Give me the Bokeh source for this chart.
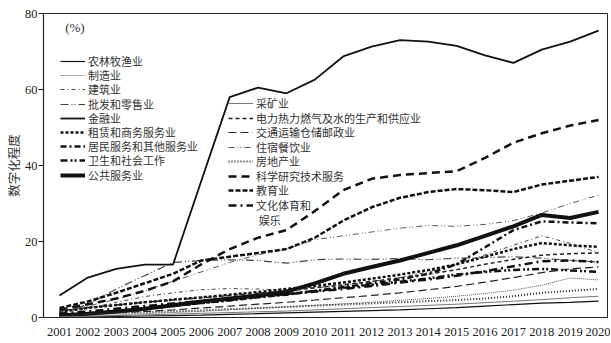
from bokeh.plotting import figure
from bokeh.models import Range1d, FixedTicker, Legend, LegendItem, Label
from bokeh.embed import file_html
from bokeh.resources import INLINE

years = list(range(2001, 2021))

agri = [0.1, 0.2, 0.3, 0.4, 0.5, 0.6, 0.8, 1.0, 1.2, 1.4, 1.6, 1.8, 2.0, 2.3, 2.6, 3.0, 3.4, 3.8, 4.0, 4.3]
manuf = [0.3, 0.5, 0.7, 1.0, 1.3, 1.6, 2.0, 2.4, 2.8, 3.2, 3.6, 4.0, 4.5, 5.0, 5.6, 6.3, 7.2, 8.5, 10.4, 9.9]
constr = [1.5, 2.5, 4.0, 5.5, 6.5, 7.3, 7.6, 7.5, 7.2, 7.8, 8.5, 9.5, 10.5, 12.0, 14.0, 16.5, 19.0, 21.5, 19.5, 17.0]
retail = [0.8, 3.5, 7.5, 11.0, 14.5, 15.0, 15.2, 15.0, 14.3, 15.2, 15.4, 15.3, 15.5, 15.2, 15.6, 15.8, 16.0, 15.6, 15.0, 14.6]
finance = [5.8, 10.5, 12.8, 13.9, 13.9, 36.0, 58.0, 60.5, 59.0, 62.6, 68.7, 71.3, 73.0, 72.6, 71.5, 69.0, 67.0, 70.5, 72.6, 75.5]
leasing = [1.5, 2.5, 3.3, 4.0, 4.7, 5.3, 6.0, 6.7, 7.5, 8.3, 9.2, 10.2, 11.3, 12.5, 14.0, 16.0, 18.0, 19.6, 19.0, 18.6]
resident = [0.5, 1.0, 1.5, 2.2, 3.0, 3.8, 4.5, 5.3, 6.0, 7.0, 8.0, 9.0, 10.0, 11.5, 14.0, 18.5, 23.0, 25.3, 25.0, 24.8]
health = [0.5, 1.0, 1.6, 2.3, 3.0, 3.8, 4.6, 5.4, 6.2, 7.0, 7.8, 8.6, 9.4, 10.3, 11.3, 12.0, 12.5, 12.8, 12.4, 12.0]
public = [0.5, 1.0, 1.6, 2.3, 3.2, 4.2, 5.0, 5.8, 6.8, 9.0, 11.5, 13.3, 15.0, 17.0, 19.0, 21.5, 24.0, 27.0, 26.2, 27.8]
mining = [0.2, 0.3, 0.5, 0.7, 0.9, 1.1, 1.3, 1.5, 1.7, 2.0, 2.3, 2.6, 2.9, 3.2, 3.5, 3.9, 4.3, 4.7, 5.2, 5.6]
power = [1.8, 2.6, 3.3, 4.0, 4.6, 5.2, 5.8, 6.4, 7.0, 7.8, 8.6, 9.5, 10.4, 11.4, 12.6, 14.0, 15.3, 16.4, 16.8, 17.0]
transport = [0.5, 0.8, 1.2, 1.6, 2.0, 2.5, 3.0, 3.5, 4.0, 4.6, 5.2, 5.8, 6.5, 7.3, 8.2, 9.3, 10.5, 11.8, 12.8, 13.3]
hotel = [1.5, 3.0, 4.8, 7.0, 9.5, 12.0, 14.5, 16.5, 18.0, 20.5, 21.5, 22.5, 23.5, 24.2, 24.0, 24.5, 25.5, 27.5, 30.0, 32.2]
realestate = [0.8, 1.0, 1.2, 1.4, 1.6, 1.9, 2.2, 2.5, 2.8, 3.1, 3.4, 3.7, 4.0, 4.3, 4.6, 5.0, 5.6, 6.5, 7.0, 7.5]
science = [2.0, 3.5, 5.0, 7.0, 9.5, 14.0, 18.0, 21.0, 23.0, 28.0, 33.5, 36.5, 37.5, 38.0, 38.5, 42.0, 46.0, 48.5, 50.5, 52.0]
education = [2.5, 4.2, 6.5, 9.0, 11.5, 15.0, 16.0, 17.0, 18.0, 21.0, 25.5, 29.0, 31.5, 33.0, 33.8, 33.5, 33.0, 35.0, 36.0, 37.0]
culture = [1.0, 1.6, 2.3, 3.0, 3.7, 4.3, 4.9, 5.5, 6.1, 6.8, 7.5, 8.3, 9.2, 10.0, 11.0, 12.2, 13.5, 14.8, 15.0, 14.6]

left_names = ["农林牧渔业", "制造业", "建筑业", "批发和零售业", "金融业", "租赁和商务服务业",
              "居民服务和其他服务业", "卫生和社会工作", "公共服务业"]
right_names = ["采矿业", "电力热力燃气及水的生产和供应业", "交通运输仓储邮政业", "住宿餐饮业",
               "房地产业", "科学研究技术服务", "教育业", "文化体育和"]
culture_line2 = "娱乐"

left_data = [agri, manuf, constr, retail, finance, leasing, resident, health, public]
right_data = [mining, power, transport, hotel, realestate, science, education, culture]

# (color, width, dash)
left_styles = [
    ("#111111", 1.2, "solid"),
    ("#555555", 1.0, "1 1"),
    ("#444444", 1.0, "4 3 1 3"),
    ("#444444", 1.2, "8 3 1 2 1 3"),
    ("#111111", 1.8, "solid"),
    ("#111111", 2.5, "3 2"),
    ("#111111", 2.5, "6 3 2 3"),
    ("#111111", 2.5, "7 3 2 2 2 3"),
    ("#111111", 4.0, "solid"),
]
right_styles = [
    ("#777777", 1.0, "solid"),
    ("#222222", 1.5, "4 3"),
    ("#222222", 1.2, "8 4"),
    ("#555555", 1.0, "6 3 1 2 1 3"),
    ("#222222", 2.0, "1 2"),
    ("#111111", 2.5, "8 5"),
    ("#111111", 2.5, "5 2"),
    ("#111111", 2.5, "8 4 2 4"),
]

MIX = "Liberation Serif, Noto Sans CJK SC"
SERIF = "Liberation Serif"

p = figure(width=610, height=338, output_backend="svg", toolbar_location=None,
           x_range=Range1d(2000.436, 2020.316), y_range=Range1d(0, 80),
           min_border_left=43, min_border_right=3, min_border_top=13, min_border_bottom=5)
p.background_fill_color = "white"
p.border_fill_color = "white"
p.outline_line_color = "#222222"
p.outline_line_width = 1
p.xgrid.visible = False
p.ygrid.visible = False

p.xaxis.ticker = FixedTicker(ticks=years)
p.yaxis.ticker = FixedTicker(ticks=[0, 20, 40, 60, 80])
for ax in (p.xaxis, p.yaxis):
    ax.axis_line_color = "#222222"
    ax.axis_line_width = 1.2
    ax.major_tick_line_color = "#222222"
    ax.minor_tick_line_color = None
    ax.major_label_text_font = SERIF
    ax.major_label_text_font_size = "12.5px"
    ax.major_label_text_color = "#222222"
p.xaxis.major_tick_out = 0
p.xaxis.major_tick_in = 0
p.xaxis.major_label_standoff = 10
p.yaxis.major_tick_out = 5
p.yaxis.major_tick_in = 0
p.yaxis.major_label_standoff = 1
p.yaxis.axis_label = "数字化程度"
p.yaxis.axis_label_text_font = MIX
p.yaxis.axis_label_text_font_size = "12.5px"
p.yaxis.axis_label_text_font_style = "normal"
p.yaxis.axis_label_text_color = "#333333"
p.yaxis.axis_label_standoff = 0


def one_item_legend(name, renderer, loc):
    lg = Legend(items=[LegendItem(label=name, renderers=[renderer])], location=loc,
                orientation="vertical")
    lg.glyph_width = 25
    lg.glyph_height = 12
    lg.label_height = 12
    lg.label_standoff = 3
    lg.spacing = 0
    lg.padding = 0
    lg.margin = 0
    lg.border_line_alpha = 0
    lg.background_fill_alpha = 0
    lg.label_text_font = MIX
    lg.label_text_font_size = "11px"
    lg.label_text_color = "#333333"
    return lg


# legend rows: left column offset 17px, pitch 14.2px; right column offset 185px, pitch 14.5px
for i, (name, vals, (c, w, d)) in enumerate(zip(left_names, left_data, left_styles)):
    r = p.line(years, vals, line_color=c, line_width=w, line_dash=d)
    p.add_layout(one_item_legend(name, r, (17, 248 - 14.2 * i)))

for i, (name, vals, (c, w, d)) in enumerate(zip(right_names, right_data, right_styles)):
    r = p.line(years, vals, line_color=c, line_width=w, line_dash=d)
    p.add_layout(one_item_legend(name, r, (185, 206 - 14.5 * i)))

p.add_layout(Label(x=2008.02, y=25.3, text=culture_line2, text_font=MIX, text_font_size="11px",
                   text_color="#333333", text_baseline="middle", text_align="left"))

p.add_layout(Label(x=2001.2, y=76.3, text="(%)", text_font=SERIF, text_font_size="13px",
                   text_color="#333333", text_baseline="middle", text_align="left"))

open("out.html", "w").write(file_html(p, INLINE))
